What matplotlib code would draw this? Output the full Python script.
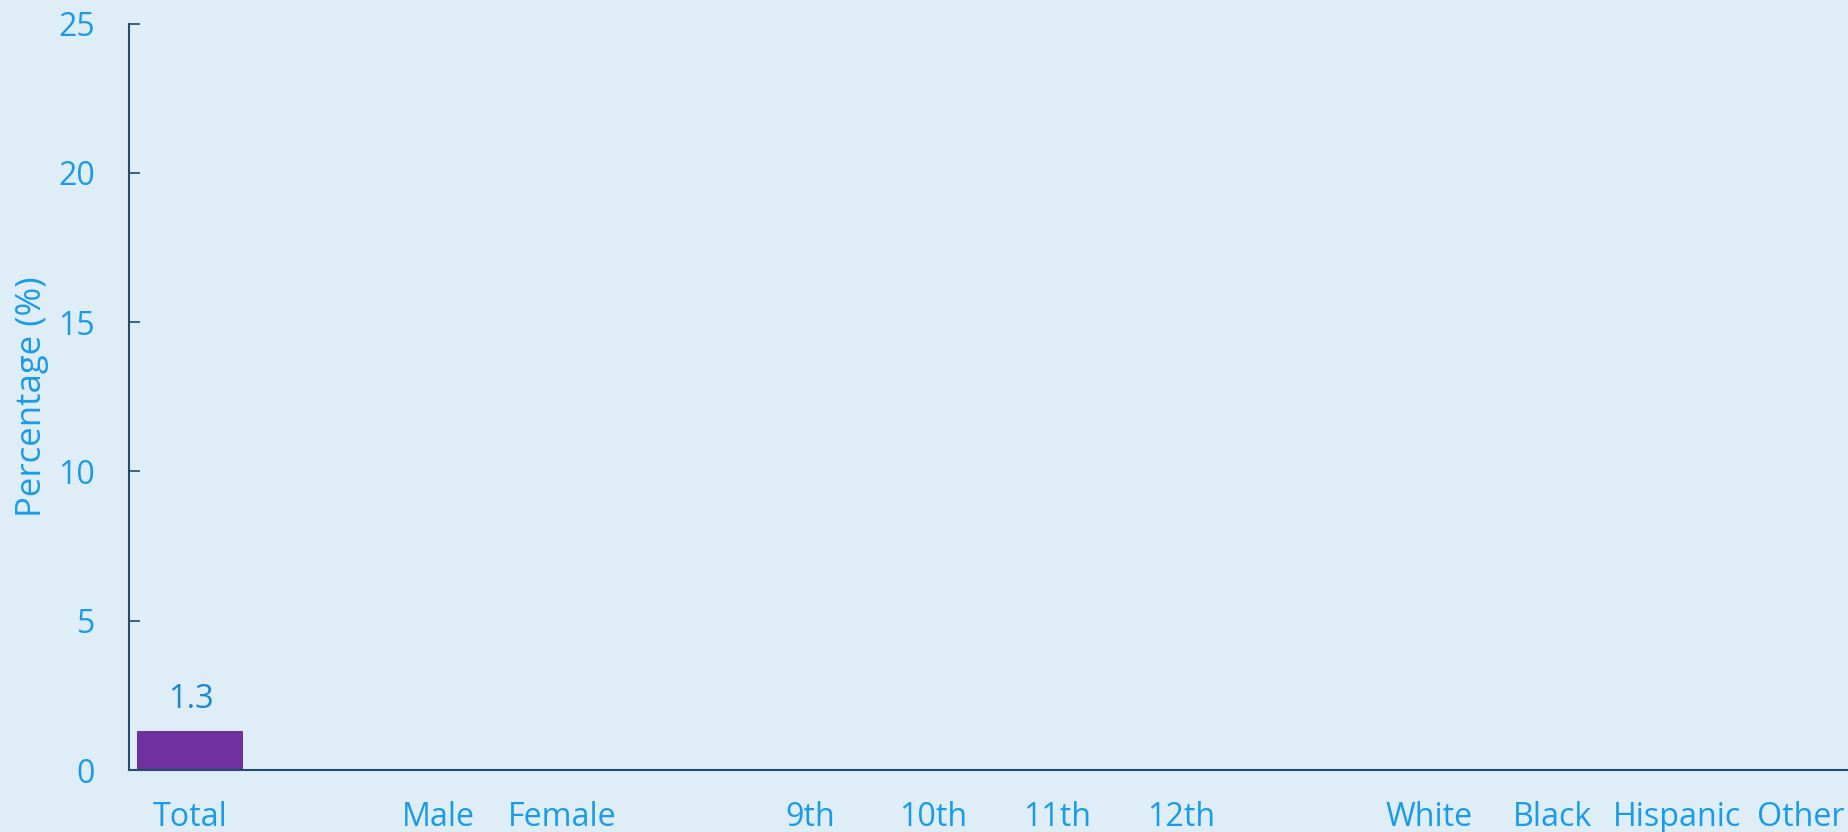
import matplotlib.pyplot as plt
import numpy as np

plt.rcParams['font.family'] = ['Open Sans', 'DejaVu Sans']

# slots with '' are spacers between the groups
categories = ['Total', '', 'Male', 'Female', '', '9th', '10th', '11th', '12th', '',
              'White', 'Black', 'Hispanic', 'Other']
values = [1.3, np.nan, np.nan, np.nan, np.nan, np.nan, np.nan, np.nan, np.nan, np.nan,
          np.nan, np.nan, np.nan, np.nan]
yticks = [0, 5, 10, 15, 20, 25]

bg = '#dfedf7'
label_col = '#1a9be8'
axis_col = '#1f4e6e'

fig = plt.figure(figsize=(18.49, 8.32), dpi=100, facecolor=bg)
ax = fig.add_axes([0.0695, 0.0745, 0.9305, 0.897])
ax.set_facecolor(bg)

x = np.arange(len(categories))
bars = ax.bar(x, values, width=0.855, color='#7030a0', linewidth=0)
for xi, v in zip(x, values):
    if not np.isnan(v):
        ax.text(xi, v + 0.5, f'{v:.1f}', ha='center', va='bottom',
                fontsize=23.5, color='#1a87d0')

ax.set_xlim(-0.5, 13.39)
ax.set_ylim(0, 25)
ax.set_yticks(yticks)
ax.set_xticks(x)
ax.set_xticklabels(categories)

ax.tick_params(axis='y', direction='in', length=8, width=1.2, color=axis_col,
               labelcolor=label_col, labelsize=23, pad=24)
ax.tick_params(axis='x', length=0, labelcolor=label_col, labelsize=23.2, pad=22)

for s in ['top', 'right']:
    ax.spines[s].set_visible(False)
for s in ['left', 'bottom']:
    ax.spines[s].set_color(axis_col)
    ax.spines[s].set_linewidth(1.5)

ax.set_ylabel('Percentage (%)', fontsize=25, color=label_col, labelpad=7)

fig.savefig('out.png', dpi=100, facecolor=bg)
